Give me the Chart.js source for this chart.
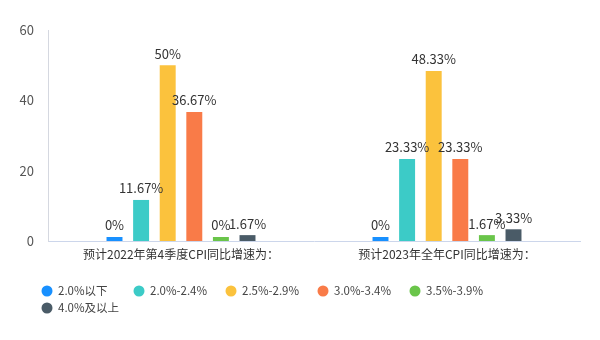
<!DOCTYPE html>
<html>
<head>
<meta charset="utf-8">
<script src="https://cdn.jsdelivr.net/npm/chart.js@4/dist/chart.umd.min.js"></script>
<style>
  html, body { margin: 0; padding: 0; background: #fff; }
  #wrap { position: relative; width: 600px; height: 340px; }
</style>
</head>
<body>
<div id="wrap"><canvas id="cpiChart"></canvas></div>
<script>
// categories and series
const categories = ["预计2022年第4季度CPI同比增速为：", "预计2023年全年CPI同比增速为："];
const seriesNames = ["2.0%以下", "2.0%-2.4%", "2.5%-2.9%", "3.0%-3.4%", "3.5%-3.9%", "4.0%及以上"];
const q4Values = [0, 11.67, 50, 36.67, 0, 1.67];
const yearValues = [0, 23.33, 48.33, 23.33, 1.67, 3.33];
const yTicks = [0, 20, 40, 60];

const colors = ["#1890ff", "#3ccbc7", "#fbc23d", "#f97b48", "#6ac54a", "#4a5b67"];
const FONT = "'Noto Sans CJK SC', 'Noto Sans', sans-serif";

// value labels above each bar
const valueLabels = {
  id: "valueLabels",
  afterDatasetsDraw(chart) {
    const ctx = chart.ctx;
    ctx.save();
    ctx.font = "13px " + FONT;
    ctx.fillStyle = "#333";
    ctx.textAlign = "center";
    ctx.textBaseline = "bottom";
    chart.data.datasets.forEach((ds, i) => {
      chart.getDatasetMeta(i).data.forEach((bar, j) => {
        ctx.fillText(ds.data[j] + "%", bar.x, bar.y - 5);
      });
    });
    ctx.restore();
  },
};

// legend with fixed item width, like the original
const fixedLegend = {
  id: "fixedLegend",
  afterDraw(chart) {
    const ctx = chart.ctx;
    ctx.save();
    ctx.font = "11.5px " + FONT;
    ctx.textBaseline = "middle";
    chart.data.datasets.forEach((ds, i) => {
      const col = i % 5;
      const row = Math.floor(i / 5);
      const x = 47 + col * 92;
      const y = 291 + row * 17;
      ctx.fillStyle = ds.backgroundColor;
      ctx.beginPath();
      ctx.arc(x, y, 5.5, 0, Math.PI * 2);
      ctx.fill();
      ctx.fillStyle = "#444";
      ctx.fillText(ds.label, x + 11, y);
    });
    ctx.restore();
  },
};

const datasets = seriesNames.map((name, i) => ({
  label: name,
  data: [q4Values[i], yearValues[i]],
  backgroundColor: colors[i],
  minBarLength: 4,
  categoryPercentage: 0.6,
  barPercentage: 0.6,
}));

new Chart(document.getElementById("cpiChart"), {
  type: "bar",
  data: { labels: categories, datasets },
  plugins: [valueLabels, fixedLegend],
  options: {
    responsive: true,
    maintainAspectRatio: false,
    animation: false,
    layout: { padding: { top: 30, right: 20, bottom: 71, left: 0 } },
    plugins: {
      legend: { display: false },
      tooltip: { enabled: false },
    },
    scales: {
      x: {
        grid: { display: false, drawTicks: false },
        border: { display: true, color: "#ccd6eb" },
        ticks: { color: "#333", font: { size: 12, family: FONT }, padding: 6 },
        afterFit: (scale) => { scale.height = 28; },
      },
      y: {
        min: 0,
        max: 60,
        afterBuildTicks: (scale) => { scale.ticks = yTicks.map((v) => ({ value: v })); },
        grid: { display: false, drawTicks: false },
        border: { display: true, color: "#d5d8e0" },
        ticks: { color: "#555", font: { size: 13, family: FONT }, padding: 14 },
        afterFit: (scale) => { scale.width = 48; },
      },
    },
  },
});
</script>
</body>
</html>
